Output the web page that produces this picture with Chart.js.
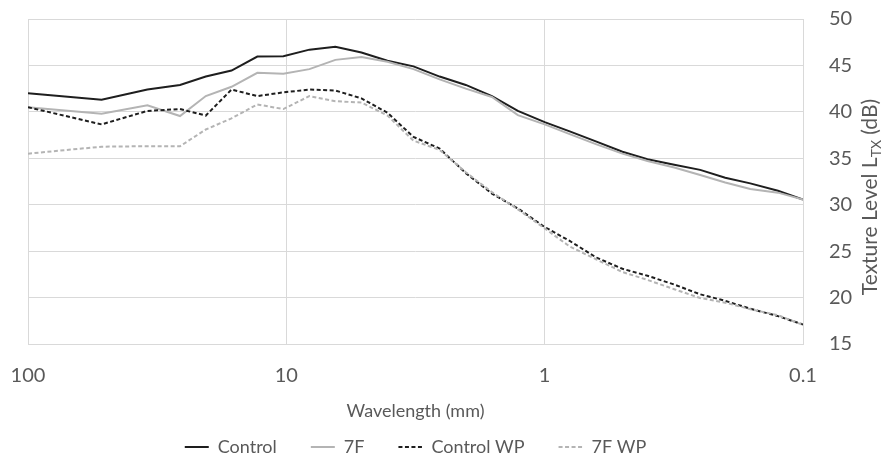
<!DOCTYPE html>
<html>
<head>
<meta charset="utf-8">
<script src="https://cdn.jsdelivr.net/npm/chart.js@4.4.1/dist/chart.umd.min.js"></script>
<style>
html, body { margin: 0; padding: 0; background: #ffffff; }
canvas { display: block; }
</style>
</head>
<body>
<canvas id="c" width="883" height="466"></canvas>
<script>
// ---- data ----
const wavelengths = [100, 51.9, 34.5, 25.8, 20.5, 16.3, 12.95, 10.27, 8.14, 6.46, 5.12, 4.06, 3.22, 2.55, 2.02, 1.6, 1.27, 1.0, 0.8, 0.63, 0.5, 0.4, 0.315, 0.25, 0.2, 0.16, 0.125, 0.1];
const control   = [42.0, 41.3, 42.4, 42.9, 43.8, 44.45, 45.95, 46.0, 46.7, 47.0, 46.4, 45.5, 44.9, 43.8, 42.9, 41.7, 40.1, 38.9, 37.9, 36.8, 35.7, 34.9, 34.3, 33.75, 32.9, 32.3, 31.5, 30.55];
const sevenF    = [40.5, 39.8, 40.7, 39.55, 41.7, 42.7, 44.2, 44.1, 44.6, 45.6, 45.9, 45.4, 44.6, 43.5, 42.5, 41.6, 39.65, 38.65, 37.6, 36.5, 35.5, 34.7, 34.0, 33.2, 32.4, 31.7, 31.3, 30.55];
const controlWP = [40.5, 38.65, 40.1, 40.3, 39.6, 42.4, 41.7, 42.1, 42.4, 42.3, 41.45, 39.9, 37.3, 36.05, 33.4, 31.2, 29.6, 27.6, 26.1, 24.3, 23.1, 22.35, 21.4, 20.35, 19.65, 18.8, 18.0, 17.1];
const sevenFWP  = [35.5, 36.25, 36.3, 36.3, 38.1, 39.3, 40.8, 40.3, 41.7, 41.15, 41.0, 39.6, 36.9, 35.9, 33.5, 31.35, 29.5, 27.45, 25.5, 24.1, 22.75, 21.9, 20.9, 19.95, 19.45, 18.75, 18.1, 17.05];
const seriesNames = ['Control', '7F', 'Control WP', '7F WP'];
const xTickValues = [100, 10, 1, 0.1];
const yMin = 15, yMax = 50, yStep = 5;
const xTitle = 'Wavelength (mm)';
const yTitleParts = ['Texture Level L', 'TX', ' (dB)'];

// ---- styling ----
const FONT = 'Lato';
const TEXT = '#595959';
const GRID = '#d9d9d9';
const DARK = '#1e1e1e';
const LIGHT = '#b4b4b4';

const toPoints = (vals) => wavelengths.map((w, i) => ({ x: w, y: vals[i] }));
const styles = [
  { color: DARK, dash: [] },
  { color: LIGHT, dash: [] },
  { color: DARK, dash: [4, 2.5] },
  { color: LIGHT, dash: [4, 2.5] }
];
const seriesValues = [control, sevenF, controlWP, sevenFWP];

const datasets = seriesValues.map((vals, i) => ({
  label: seriesNames[i],
  data: toPoints(vals),
  borderColor: styles[i].color,
  backgroundColor: styles[i].color,
  borderDash: styles[i].dash,
  borderWidth: 2,
  pointRadius: 0,
  tension: 0,
  fill: false,
  order: 4 - i
}));

const yTitlePlugin = {
  id: 'yTitle',
  afterDraw(chart) {
    const ctx = chart.ctx;
    const big = '21px ' + FONT, small = '14px ' + FONT;
    ctx.save();
    ctx.font = big;
    const w1 = ctx.measureText(yTitleParts[0]).width;
    const w3 = ctx.measureText(yTitleParts[2]).width;
    ctx.font = small;
    const w2 = ctx.measureText(yTitleParts[1]).width;
    const total = w1 + w2 + w3;
    const ca = chart.chartArea;
    ctx.translate(ca.right + 67, 197);
    ctx.rotate(-Math.PI / 2);
    ctx.fillStyle = TEXT;
    ctx.textBaseline = 'middle';
    ctx.textAlign = 'left';
    let x = -total / 2;
    ctx.font = big; ctx.fillText(yTitleParts[0], x, 0); x += w1;
    ctx.font = small; ctx.fillText(yTitleParts[1], x, 6); x += w2;
    ctx.font = big; ctx.fillText(yTitleParts[2], x, 0);
    ctx.restore();
  }
};

new Chart(document.getElementById('c'), {
  type: 'line',
  data: { datasets },
  plugins: [yTitlePlugin],
  options: {
    responsive: false,
    animation: false,
    devicePixelRatio: 1,
    layout: { padding: { left: 28, top: 19, right: 0, bottom: 0 } },
    plugins: {
      tooltip: { enabled: false },
      legend: {
        position: 'bottom',
        fullSize: false,
        labels: {
          usePointStyle: true,
          pointStyle: 'line',
          pointStyleWidth: 24,
          padding: 34,
          color: TEXT,
          font: { family: FONT, size: 18 },
          generateLabels: (chart) => {
            const items = Chart.defaults.plugins.legend.labels.generateLabels(chart);
            return items.map((it) => {
              const ds = chart.data.datasets[it.datasetIndex];
              return Object.assign({}, it, {
                lineDash: ds.borderDash,
                lineWidth: 2,
                strokeStyle: ds.borderColor,
                fillStyle: ds.borderColor
              });
            }).sort((a, b) => a.datasetIndex - b.datasetIndex);
          }
        }
      }
    },
    scales: {
      x: {
        type: 'logarithmic',
        reverse: true,
        min: 0.1,
        max: 100,
        afterBuildTicks: (s) => { s.ticks = xTickValues.map(v => ({ value: v, major: true })); },
        afterFit: (s) => {
          s.height = 60;
          s.paddingLeft = 0; s.paddingRight = 0; s.paddingTop = 0; s.paddingBottom = 0;
        },
        ticks: {
          autoSkip: false,
          maxRotation: 0,
          padding: 20,
          color: TEXT,
          font: { family: FONT, size: 20 },
          callback: (v) => String(v)
        },
        grid: { color: GRID, lineWidth: 1, drawTicks: false },
        border: { color: GRID },
        title: {
          display: true,
          text: xTitle,
          color: TEXT,
          font: { family: FONT, size: 18 },
          padding: { top: 0, bottom: -18 }
        }
      },
      y: {
        position: 'right',
        min: yMin,
        max: yMax,
        afterFit: (s) => {
          s.width = 80;
          s.paddingTop = 0; s.paddingBottom = 0; s.paddingLeft = 0; s.paddingRight = 0;
        },
        ticks: {
          stepSize: yStep,
          padding: 26,
          color: TEXT,
          font: { family: FONT, size: 20 }
        },
        grid: { color: GRID, lineWidth: 1, drawTicks: false },
        border: { color: GRID }
      }
    }
  }
});
</script>
</body>
</html>
